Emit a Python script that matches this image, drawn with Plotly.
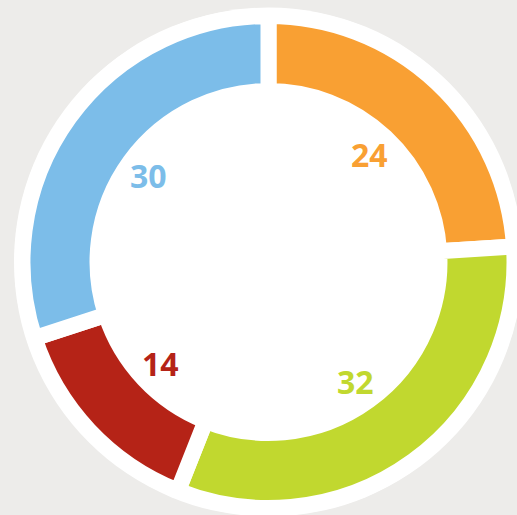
import math
import plotly.graph_objects as go

labels = ["A", "B", "C", "D"]
values = [24, 32, 14, 30]
colors = ["#F9A033", "#C1D82F", "#B52317", "#7CBDE9"]

W, H = 517, 515
CX, CY = 268.5, 262.0       # donut centre in px
R_PIE = 246                 # pie radius incl. half stroke
R_BG = 254.5                # white backdrop circle
R_LABEL = 148               # label radius

fig = go.Figure()

fig.add_trace(go.Pie(
    labels=labels,
    values=values,
    marker=dict(colors=colors, line=dict(color="white", width=16)),
    hole=0.695,
    sort=False,
    direction="clockwise",
    rotation=0,
    textinfo="none",
    hoverinfo="label+value",
    showlegend=False,
    domain=dict(x=[(CX - R_PIE) / W, (CX + R_PIE) / W],
                y=[1 - (CY + R_PIE) / H, 1 - (CY - R_PIE) / H]),
))

# labels placed at the middle angle of each slice, inside the hole
total = sum(values)
cum = 0
for v, c in zip(values, colors):
    mid = (cum + v / 2) / total * 2 * math.pi
    cum += v
    px = CX + R_LABEL * math.sin(mid)
    py = CY - R_LABEL * math.cos(mid)
    fig.add_annotation(
        x=px / W, y=1 - py / H, xref="paper", yref="paper",
        text=f"<b>{v}</b>", showarrow=False,
        xanchor="center", yanchor="middle",
        font=dict(family="Open Sans", size=32, color=c),
    )

fig.add_shape(
    type="circle", xref="paper", yref="paper", layer="below",
    x0=(CX - R_BG) / W, x1=(CX + R_BG) / W,
    y0=1 - (CY + R_BG) / H, y1=1 - (CY - R_BG) / H,
    fillcolor="white", line=dict(width=0),
)

fig.update_layout(
    width=W, height=H,
    margin=dict(l=0, r=0, t=0, b=0),
    paper_bgcolor="#EDECEA",
    plot_bgcolor="#EDECEA",
)

fig.write_html("out.html")
